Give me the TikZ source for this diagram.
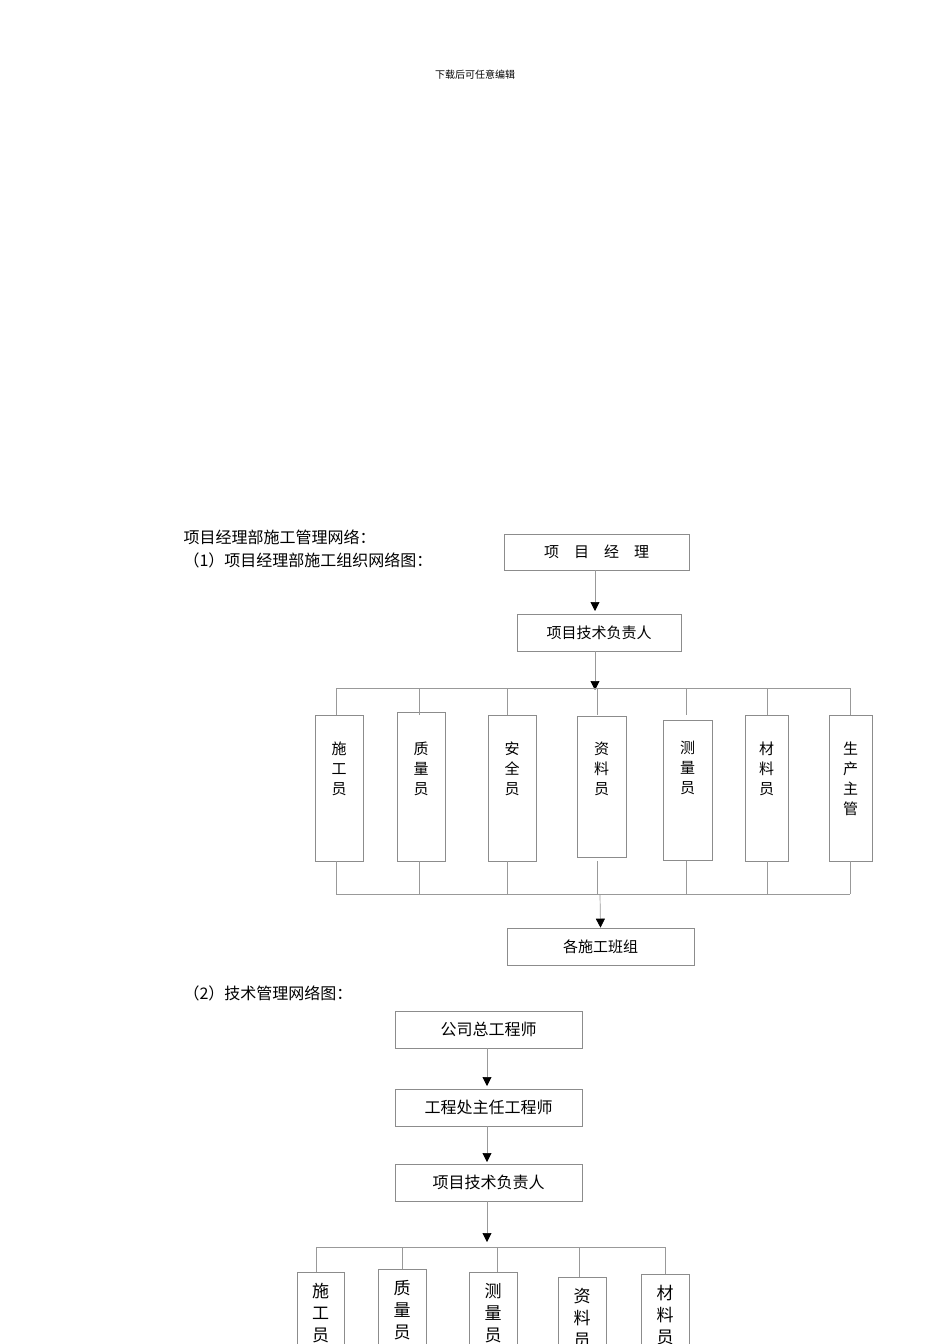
\documentclass[tikz,border=0pt]{standalone}
\usepackage{fontspec}
\setmainfont{Noto Sans CJK SC}
\newfontfamily\cjkb[BoldFont={* Bold}]{Noto Sans CJK SC}
\usetikzlibrary{arrows.meta}
\begin{document}
\begin{tikzpicture}[x=1pt,y=-1pt,
  bx/.style={draw=black!45,line width=0.7pt,inner sep=0pt,font=\fontsize{15}{18}\selectfont},
  vb/.style={bx,align=center,font=\fontsize{15}{19}\selectfont},
  ln/.style={draw=black!40,line width=0.7pt},
  ar/.style={ln,-{Triangle[length=9pt,width=9pt,fill=black,color=black]}}]
\useasboundingbox (0,0) rectangle (950,1344);
\clip (0,0) rectangle (950,1344);
\node (hdr) at (475,75) {\fontsize{10}{12}\selectfont 下载后可任意编辑};
\node[anchor=west] (t0) at (180,537) {\fontsize{16}{19}\selectfont 项目经理部施工管理网络：};
\node[anchor=west] (t1) at (180,560) {\fontsize{16}{19}\selectfont （1）项目经理部施工组织网络图：};
\node[anchor=west] (t2) at (180,993) {\fontsize{16}{19}\selectfont （2）技术管理网络图：};
% part 1
\node[bx,minimum width=185,minimum height=36] (pm) at (596.5,552) {项\quad 目\quad 经\quad 理};
\node[bx,minimum width=164,minimum height=37] (tl) at (599,632.5) {项目技术负责人};
\draw[ar] (pm.south -| 595,0) -- (595,611);
\draw[ar] (tl.south -| 595,0) -- (595,690);
\coordinate (bl) at (336,688); \coordinate (br) at (850,688);
\draw[ln] (bl) -- (br);
\foreach \n/\xa/\ya/\xb/\yb/\t in {a/315/715/363/861/施\\工\\员, b/397/712/445/861/质\\量\\员, c/488/715/536/861/安\\全\\员, d/577/716/626/857/资\\料\\员, e/663/720/712/860/测\\量\\员, f/745/715/788/861/材\\料\\员, g/829/715/872/861/生\\产\\主\\管}{
  \draw[draw=black!45,line width=0.7pt] (\xa,\ya) rectangle (\xb,\yb);
  \node[align=center,font=\fontsize{15}{20}\selectfont,anchor=north] (\n) at ({(\xa+\xb)/2},738) {\t};
  \coordinate (\n t) at ({(\xa+\xb)/2},\ya);
  \coordinate (\n b) at ({(\xa+\xb)/2},\yb);
}
\foreach \n/\x in {a/336,b/419,c/507,d/597,e/686,f/767,g/850}{
  \draw[ln] (\x,688) -- (\x,715);
  \draw[ln] (\x,861) -- (\x,894);
}
\draw[ln] (336,894) -- (850,894);
\node[bx,minimum width=187,minimum height=37] (gz) at (600.5,946.5) {各施工班组};
\draw[ar] (600,894) -- (gz.north);
% part 2
\begin{scope}[every node/.append style={font=\fontsize{16}{19}\selectfont}]
\node[bx,minimum width=187,minimum height=37,font=\fontsize{16}{19}\selectfont] (c1) at (488.5,1029.5) {公司总工程师};
\node[bx,minimum width=187,minimum height=37,font=\fontsize{16}{19}\selectfont] (c2) at (488.5,1107.5) {工程处主任工程师};
\node[bx,minimum width=187,minimum height=37,font=\fontsize{16}{19}\selectfont] (c3) at (488.5,1182.5) {项目技术负责人};
\end{scope}
\draw[ar] (c1.south -| 487,0) -- (487,1086);
\draw[ar] (c2.south -| 487,0) -- (487,1162);
\draw[ar] (c3.south -| 487,0) -- (487,1242);
\draw[ln] (316,1247) -- (665,1247);
\foreach \n/\xa/\ya/\xb/\ty/\t in {p/297/1272/344/1290/施\\工\\员, q/378/1269/426/1287/质\\量\\员, r/469/1272/517/1290/测\\量\\员, s/558/1277/606/1295/资\\料\\员, u/641/1274/689/1292/材\\料\\员}{
  \draw[draw=black!45,line width=0.7pt] (\xa,1400) -- (\xa,\ya) -- (\xb,\ya) -- (\xb,1400);
  \node[align=center,font=\fontsize{17}{22}\selectfont,anchor=north] (\n) at ({(\xa+\xb)/2},\ty-10) {\t};
}
\foreach \x/\y in {316/1272,402/1269,497/1272,579/1277,665/1274}{
  \draw[ln] (\x,1247) -- (\x,\y);
}
\end{tikzpicture}
\end{document}
